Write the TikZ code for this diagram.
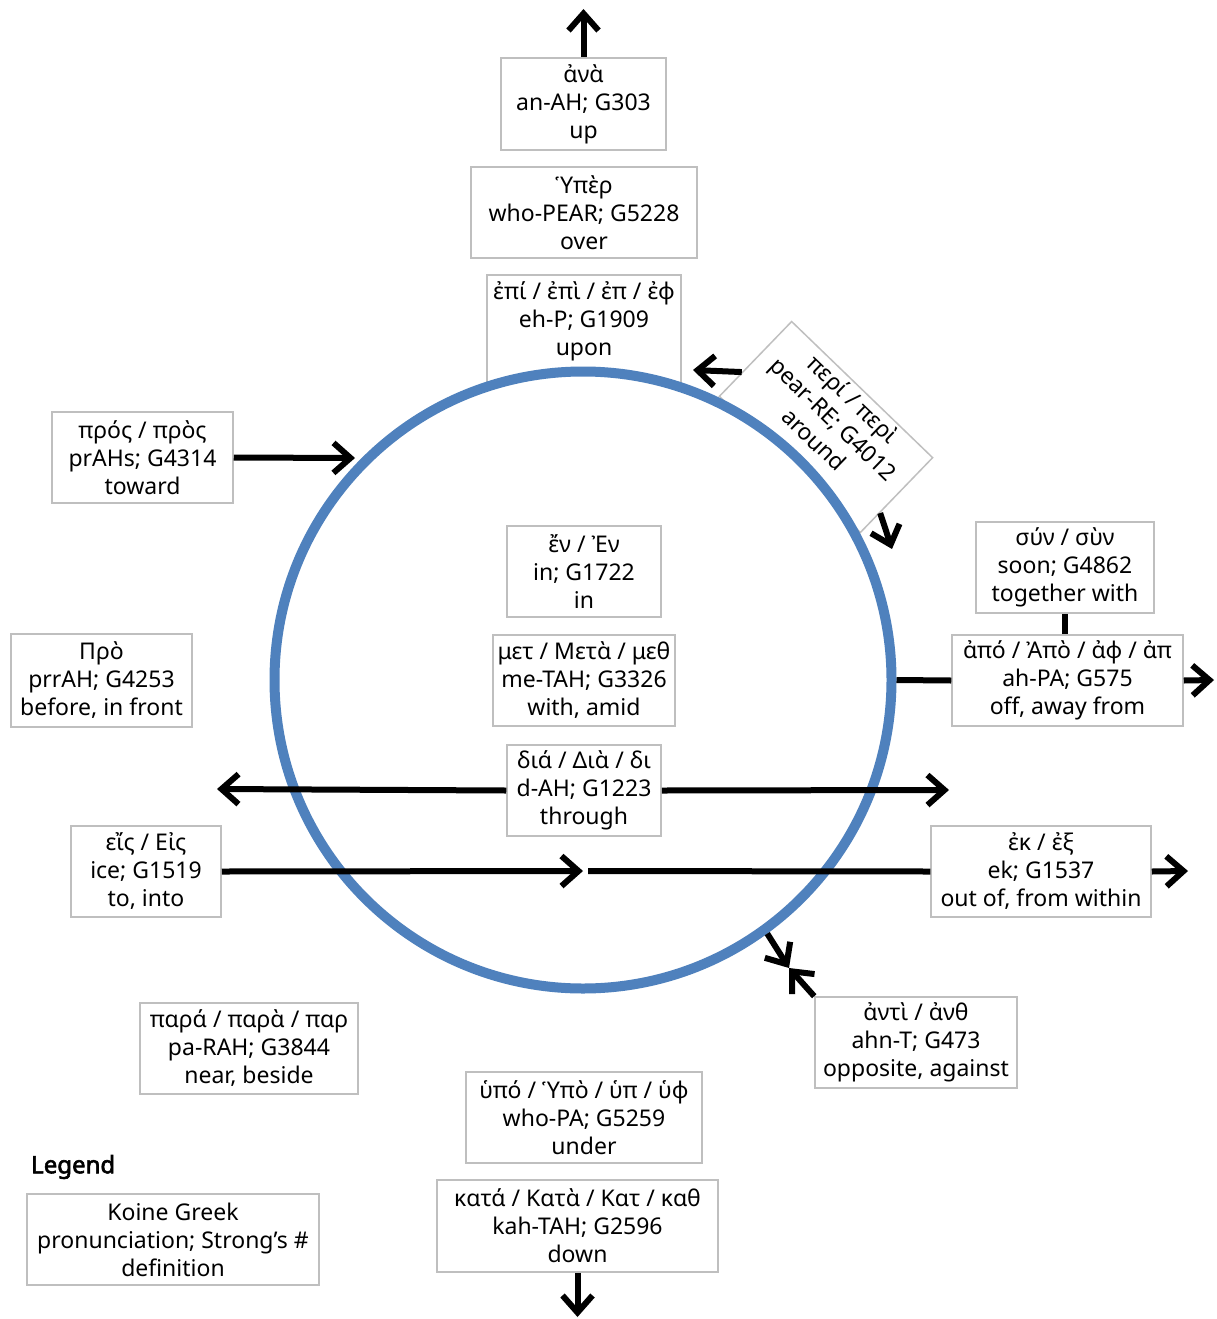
\documentclass[tikz,border=0pt]{standalone}
\usepackage{fontspec}
\setmainfont{Noto Sans}
\newfontfamily\legfont{Noto Sans}[FakeBold=2.5]
\usetikzlibrary{arrows.meta,calc}
\definecolor{cblue}{HTML}{4F81BD}
\definecolor{bgray}{HTML}{BFBFBF}
\tikzset{
  gbox/.style={draw=bgray, line width=1.5pt, fill=white, align=center, inner sep=0pt,
    font=\fontsize{23}{28}\selectfont},
  bx/.style 2 args={minimum width=#1pt, minimum height=#2pt},
  conn/.style={line width=6pt, black},
  arr/.style={conn, -{Straight Barb[length=17pt,width=30pt]}},
}
\begin{document}
\begin{tikzpicture}[x=1pt,y=-1pt]
\useasboundingbox (0,0) rectangle (1217,1319);
% boxes partly hidden by the ring
\node[gbox, bx={194}{110}] (epi) at (584,330)
  {\begin{tabular}[b]{@{}c@{}}ἐπί / ἐπὶ / ἐπ / ἐφ\\eh-P; G1909\\upon\end{tabular}\rule[-24.4pt]{0pt}{0pt}};
\node[gbox, bx={196}{104}, rotate=-44] (peri) at (826,427)
  {\begin{tabular}[b]{@{}c@{}}περί / περὶ\\pear-RE; G4012\\around\end{tabular}\rule[-24.4pt]{0pt}{0pt}};
\coordinate (periTipL) at (693,370);
\coordinate (periTipR) at (892,549);
\draw[arr] ($(peri.north west)!0.68!(peri.south west)$) -- (periTipL);
\draw[arr] ($(peri.north east)!0.73!(peri.south east)$) -- (periTipR);
% ring
\node[circle, draw=cblue, fill=white, line width=10pt, minimum size=617pt, inner sep=0pt] (ring) at (583,680) {};
% other boxes
\node[gbox, bx={165}{92}] (ana) at (583.5,104) {ἀνὰ\\an-AH; G303\\up};
\node[gbox, bx={226}{91}] (hyper) at (584,212.5) {Ὑπὲρ\\who-PEAR; G5228\\over};
\node[gbox, bx={181}{91}] (pros) at (142.5,457.5) {πρός / πρὸς\\prAHs; G4314\\toward};
\node[gbox, bx={181}{93}] (pro) at (101.5,680.5) {Πρὸ\\prrAH; G4253\\before, in front};
\node[gbox, bx={154}{91}] (en) at (584,571.5) {ἔν / Ἐν\\in; G1722\\in};
\node[gbox, bx={182}{91}] (met) at (584,680.5) {μετ / Μετὰ / μεθ\\me-TAH; G3326\\with, amid};
\node[gbox, bx={154}{91}] (dia) at (584,790.5) {διά / Διὰ / δι\\d-AH; G1223\\through};
\node[gbox, bx={178}{91}] (syn) at (1065,567.5) {σύν / σὺν\\soon; G4862\\together with};
\node[gbox, bx={231}{91}] (apo) at (1067.5,680.5) {ἀπό / Ἀπὸ / ἀφ / ἀπ\\ah-PA; G575\\off, away from};
\node[gbox, bx={150}{91}] (eis) at (146,871.5) {εἴς / Εἰς\\ice; G1519\\to, into};
\node[gbox, bx={220}{91}] (ek) at (1041,871.5) {ἐκ / ἐξ\\ek; G1537\\out of, from within};
\node[gbox, bx={202}{91}] (anti) at (916,1042.5) {ἀντὶ / ἀνθ\\ahn-T; G473\\opposite, against};
\node[gbox, bx={218}{91}] (para) at (249,1048.5) {παρά / παρὰ / παρ\\pa-RAH; G3844\\near, beside};
\node[gbox, bx={236}{91}] (hypo) at (584,1117.5) {ὑπό / Ὑπὸ / ὑπ / ὑφ\\who-PA; G5259\\under};
\node[gbox, bx={281}{92}] (kata) at (577.5,1226) {κατά / Κατὰ / Κατ / καθ\\kah-TAH; G2596\\down};
\node[anchor=west, inner sep=0pt, font=\fontsize{24}{28}\legfont\bfseries] (legtitle) at (31,1167) {Legend};
\node[gbox, bx={292}{91}] (legbox) at (173,1239.5) {Koine Greek\\pronunciation; Strong’s \#\\definition};
% free ends
\coordinate (anaTip) at (583.5,9);
\coordinate (prosTip) at (355,458);
\coordinate (diaL) at (217,789);
\coordinate (diaR) at (949,790);
\coordinate (apoTip) at (1214,680);
\coordinate (eisTip) at (583,871);
\coordinate (ekStart) at (588,871);
\coordinate (ekTip) at (1188,871);
\coordinate (antiMeet) at (789,968);
\coordinate (kataTip) at (577.5,1317);
% connectors
\draw[arr] (ana.north) -- (anaTip);
\draw[arr] (pros.east) -- (prosTip);
\draw[arr] (dia.west) -- (diaL);
\draw[arr] (dia.east) -- (diaR);
\draw[conn] (syn.south) -- (syn.south |- apo.north);
\draw[conn] (ring.east) -- (apo.west);
\draw[arr] (apo.east) -- (apoTip);
\draw[arr] (eis.east) -- (eisTip);
\draw[conn] (ekStart) -- (ek.west);
\draw[arr] (ek.east) -- (ekTip);
\draw[arr] (ring.-54) -- (antiMeet);
\draw[arr] (anti.north west) -- (antiMeet);
\draw[arr] (kata.south) -- (kataTip);
\end{tikzpicture}
\end{document}
